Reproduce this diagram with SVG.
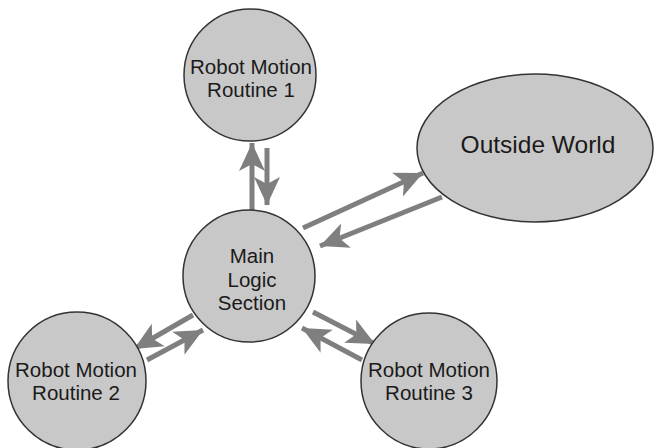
<svg xmlns="http://www.w3.org/2000/svg" width="655" height="448" viewBox="0 0 655 448">
<style>
.node{fill:#c8c8c8;stroke:#333;stroke-width:1.5}
.lbl{font-family:"Liberation Sans",Arial,sans-serif;font-size:20.5px;fill:#1a1a1a;text-anchor:middle}
.big{font-size:24.5px}
.conn{stroke:#7f7f7f;stroke-width:5;fill:none;marker-end:url(#ah)}
</style>
<defs>
<marker id="ah" markerUnits="userSpaceOnUse" viewBox="-29 -14 30 28" refX="0" refY="0" markerWidth="30" markerHeight="28" orient="auto">
<path d="M0,0 L-28,-13 L-21,0 L-28,13 Z" fill="#7f7f7f"/>
</marker>
</defs>
<rect width="655" height="448" fill="#fff"/>
<g id="connectors">
<line class="conn" x1="252" y1="211" x2="252" y2="143"/>
<line class="conn" x1="267" y1="148" x2="267" y2="205"/>
<line class="conn" x1="303" y1="228" x2="423" y2="173"/>
<line class="conn" x1="442" y1="197" x2="320" y2="246"/>
<line class="conn" x1="193" y1="315" x2="134" y2="349"/>
<line class="conn" x1="147" y1="360" x2="203" y2="330"/>
<line class="conn" x1="313" y1="312" x2="375" y2="344"/>
<line class="conn" x1="362" y1="360" x2="302" y2="328"/>
</g>
<g id="rmr1">
<circle class="node" cx="250" cy="75" r="66"/>
<text class="lbl" x="251" y="74">Robot Motion</text>
<text class="lbl" x="251" y="97">Routine 1</text>
</g>
<g id="outside">
<ellipse class="node" cx="535" cy="148" rx="118" ry="74"/>
<text class="lbl big" x="538" y="153">Outside World</text>
</g>
<g id="main">
<circle class="node" cx="249" cy="276" r="66"/>
<text class="lbl" x="252" y="263">Main</text>
<text class="lbl" x="252" y="287">Logic</text>
<text class="lbl" x="252" y="310">Section</text>
</g>
<g id="rmr2">
<circle class="node" cx="77" cy="381" r="69"/>
<text class="lbl" x="76" y="377">Robot Motion</text>
<text class="lbl" x="76" y="400">Routine 2</text>
</g>
<g id="rmr3">
<circle class="node" cx="429" cy="381" r="68"/>
<text class="lbl" x="429" y="377">Robot Motion</text>
<text class="lbl" x="429" y="400">Routine 3</text>
</g>
</svg>
